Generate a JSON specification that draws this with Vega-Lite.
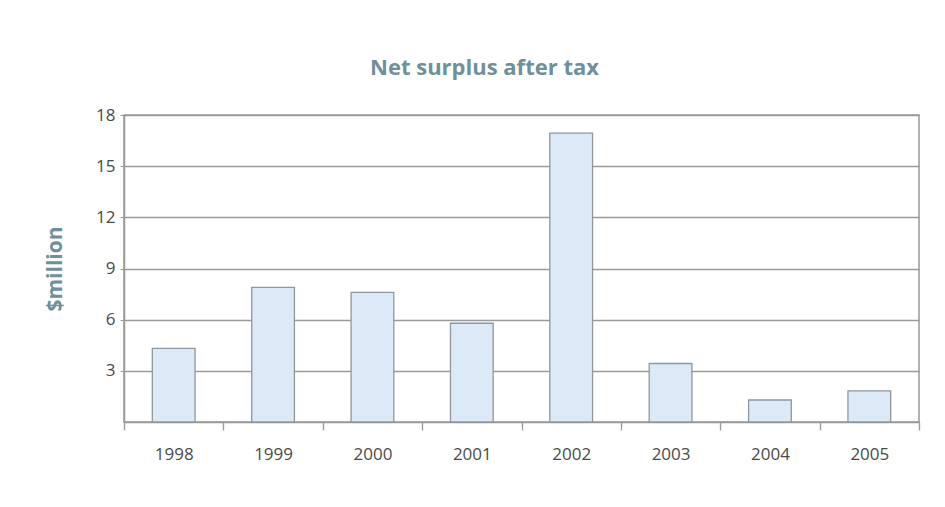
{
  "$schema": "https://vega.github.io/schema/vega-lite/v6.json",
  "autosize": "none",
  "width": 795,
  "height": 307,
  "padding": {"left": 124, "top": 115, "right": 26, "bottom": 85},
  "background": "white",
  "title": {
    "text": "Net surplus after tax",
    "font": "Open Sans",
    "fontSize": 22,
    "fontWeight": "bold",
    "color": "#6f8f9a",
    "anchor": "middle",
    "dx": -37,
    "offset": 26
  },
  "data": {
    "values": [
      {"year": "1998", "value": 4.32},
      {"year": "1999", "value": 7.89},
      {"year": "2000", "value": 7.6},
      {"year": "2001", "value": 5.79},
      {"year": "2002", "value": 16.94},
      {"year": "2003", "value": 3.43},
      {"year": "2004", "value": 1.29},
      {"year": "2005", "value": 1.82}
    ]
  },
  "mark": {"type": "bar", "fill": "#dce9f6", "stroke": "#8f979d", "strokeWidth": 1.3, "width": {"band": 0.43}},
  "encoding": {
    "x": {
      "field": "year",
      "type": "ordinal",
      "scale": {"paddingInner": 0, "paddingOuter": 0},
      "axis": {
        "title": null,
        "labelAngle": 0,
        "labelFont": "Open Sans",
        "labelFontSize": 17,
        "labelColor": "#4a4a4a",
        "labelPadding": 16,
        "tickBand": "extent",
        "tickSize": 8,
        "tickColor": "#999",
        "tickWidth": 1.3,
        "domainColor": "#999",
        "domainWidth": 1.5
      }
    },
    "y": {
      "field": "value",
      "type": "quantitative",
      "scale": {"domain": [0, 18], "nice": false},
      "axis": {
        "title": "$million",
        "titleFont": "Open Sans",
        "titleFontSize": 21,
        "titleFontWeight": "bold",
        "titleColor": "#6f8f9a",
        "titlePadding": 30,
        "values": [3, 6, 9, 12, 15, 18],
        "labelFont": "Open Sans",
        "labelFontSize": 17,
        "labelColor": "#4a4a4a",
        "labelPadding": 5,
        "tickSize": 4,
        "tickColor": "#999",
        "domainColor": "#999",
        "domainWidth": 1.5,
        "grid": true,
        "gridColor": "#9a9a9a",
        "gridWidth": 1.5
      }
    }
  },
  "config": {
    "view": {"stroke": "#999", "strokeWidth": 1.5}
  }
}
